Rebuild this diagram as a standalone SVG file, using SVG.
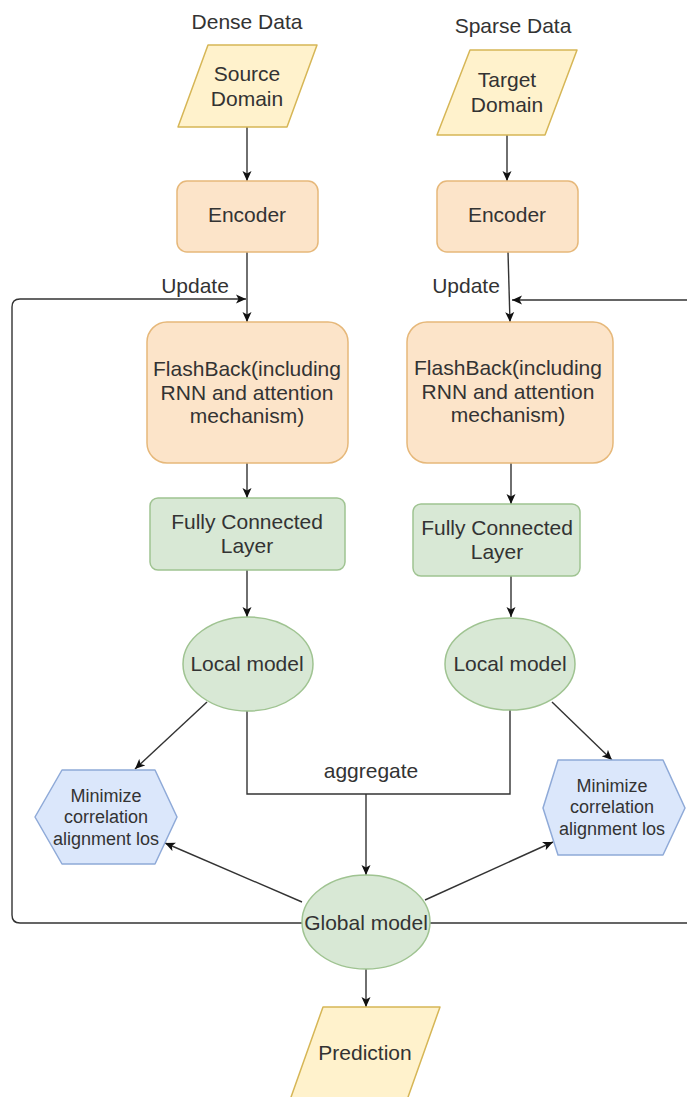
<svg xmlns="http://www.w3.org/2000/svg" width="687" height="1097" viewBox="0 0 687 1097">
  <defs>
    <marker id="arrow" viewBox="0 0 10 10" refX="10" refY="5" markerWidth="10" markerHeight="10" markerUnits="userSpaceOnUse" orient="auto">
      <path d="M0,0.5 L10,5 L0,9.5 L2.5,5 Z" fill="#111"/>
    </marker>
  </defs>
  <style>
    text { font-family: "Liberation Sans", Arial, sans-serif; font-size: 21px; fill: #333; text-anchor: middle; }
    .small { font-size: 18px; }
    .io { fill: #fff2cc; stroke: #d6b656; stroke-width: 1.5; stroke-linejoin: round; }
    .proc { fill: #fce4c9; stroke: #e6b87a; stroke-width: 1.5; }
    .green { fill: #d8e8d5; stroke: #9fc391; stroke-width: 1.5; }
    .blue { fill: #dbe7fb; stroke: #8faad8; stroke-width: 1.5; stroke-linejoin: round; }
    .edge { fill: none; stroke: #333; stroke-width: 1.4; }
    .arr { marker-end: url(#arrow); }
  </style>
  <rect width="687" height="1097" fill="#ffffff"/>

  <!-- connectors -->
  <g id="connectors">
    <path class="edge arr" d="M247,127 L247,181"/>
    <path class="edge arr" d="M507,135 L507,181"/>
    <path class="edge arr" d="M247,252 L247,322"/>
    <path class="edge arr" d="M508,252 L510,322"/>
    <path class="edge arr" d="M247,463 L247,498"/>
    <path class="edge arr" d="M511,463 L511,504"/>
    <path class="edge arr" d="M247,570 L247,617"/>
    <path class="edge arr" d="M511,576 L511,617"/>
    <path class="edge arr" d="M207,702 L135,769"/>
    <path class="edge arr" d="M552,702 L612,760"/>
    <path class="edge" d="M247,711 L247,794 L510,794 L510,710"/>
    <path class="edge arr" d="M366,794 L366,875"/>
    <path class="edge arr" d="M302,902 L165,843"/>
    <path class="edge arr" d="M425,900 L553,842"/>
    <path class="edge arr" d="M366,969 L366,1007"/>
    <!-- update loops -->
    <path class="edge arr" d="M302,923 L20,923 Q12,923 12,915 L12,307 Q12,299 20,299 L246,299"/>
    <path class="edge arr" d="M430,923 L690,923 L690,300 L512,300"/>
  </g>

  <!-- labels -->
  <g id="labels">
    <text x="247" y="29">Dense Data</text>
    <text x="513" y="33">Sparse Data</text>
    <text x="195" y="293">Update</text>
    <text x="466" y="293">Update</text>
    <text x="371" y="778">aggregate</text>
  </g>

  <g id="source-domain">
    <path class="io" d="M208,45 L317,45 L287,127 L178,127 Z"/>
    <text x="247" y="81">Source</text>
    <text x="247" y="106">Domain</text>
  </g>
  <g id="target-domain">
    <path class="io" d="M470,50 L577,50 L545,135 L437,135 Z"/>
    <text x="507" y="87">Target</text>
    <text x="507" y="112">Domain</text>
  </g>

  <g id="encoder-left">
    <rect class="proc" x="177" y="181" width="141" height="71" rx="10"/>
    <text x="247" y="222">Encoder</text>
  </g>
  <g id="encoder-right">
    <rect class="proc" x="437" y="181" width="141" height="71" rx="10"/>
    <text x="507" y="222">Encoder</text>
  </g>

  <g id="flashback-left">
    <rect class="proc" x="147" y="322" width="201" height="141" rx="20"/>
    <text x="247" y="376">FlashBack(including</text>
    <text x="247" y="400">RNN and attention</text>
    <text x="247" y="423">mechanism)</text>
  </g>
  <g id="flashback-right">
    <rect class="proc" x="407" y="322" width="206" height="141" rx="20"/>
    <text x="508" y="375">FlashBack(including</text>
    <text x="508" y="399">RNN and attention</text>
    <text x="508" y="422">mechanism)</text>
  </g>

  <g id="fc-left">
    <rect class="green" x="150" y="498" width="195" height="72" rx="8"/>
    <text x="247" y="529">Fully Connected</text>
    <text x="247" y="553">Layer</text>
  </g>
  <g id="fc-right">
    <rect class="green" x="413" y="504" width="167" height="72" rx="8"/>
    <text x="497" y="535">Fully Connected</text>
    <text x="497" y="559">Layer</text>
  </g>

  <g id="local-left">
    <ellipse class="green" cx="248" cy="664" rx="65" ry="47"/>
    <text x="247" y="671">Local model</text>
  </g>
  <g id="local-right">
    <ellipse class="green" cx="510" cy="664" rx="65" ry="46"/>
    <text x="510" y="671">Local model</text>
  </g>

  <g id="coral-left">
    <path class="blue" d="M35,817 L62,770 L155,770 L177,817 L155,864 L62,864 Z"/>
    <text class="small" x="106" y="802">Minimize</text>
    <text class="small" x="106" y="823">correlation</text>
    <text class="small" x="106" y="845">alignment los</text>
  </g>
  <g id="coral-right">
    <path class="blue" d="M543,808 L558,760 L663,760 L685,808 L663,855 L558,855 Z"/>
    <text class="small" x="612" y="792">Minimize</text>
    <text class="small" x="612" y="813">correlation</text>
    <text class="small" x="612" y="835">alignment los</text>
  </g>

  <g id="global-model">
    <ellipse class="green" cx="366" cy="922" rx="64" ry="47"/>
    <text x="366" y="930">Global model</text>
  </g>

  <g id="prediction">
    <path class="io" d="M323,1007 L440,1007 L407,1100 L290,1100 Z"/>
    <text x="365" y="1060">Prediction</text>
  </g>
</svg>
